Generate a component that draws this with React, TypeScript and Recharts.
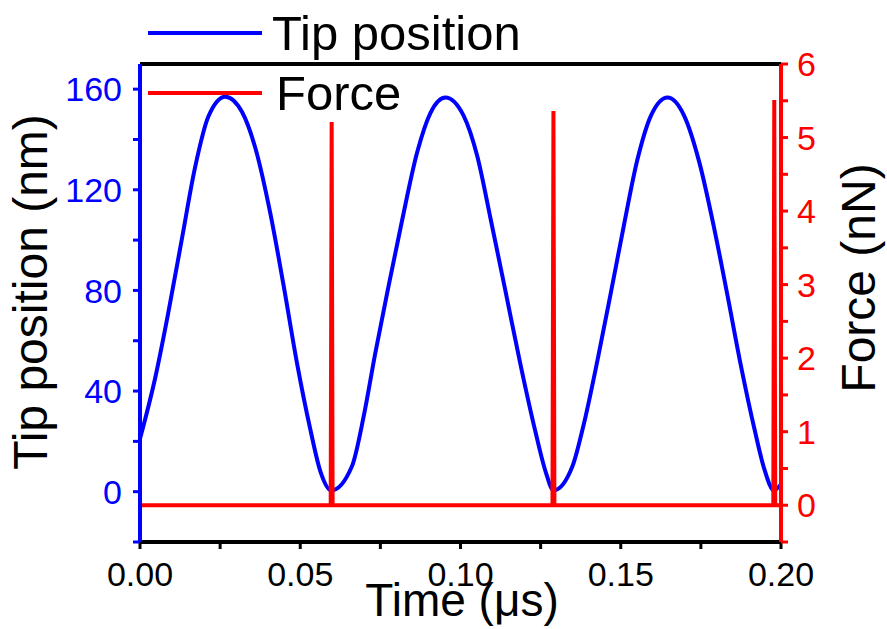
import { LineChart, Line, XAxis, YAxis } from 'recharts';

const FONT = "'Liberation Sans', Arial, sans-serif";
const BLUE = '#0000ff';
const RED = '#ff0000';

// tip position (nm) vs time (µs)
const tipTime = [
  0, 0.0047, 0.0088, 0.013, 0.0172, 0.0213, 0.0266, 0.0318, 0.0359, 0.0406, 0.0448, 0.049, 0.0531, 0.0563,
  0.0597, 0.0661, 0.0698, 0.0734, 0.0776, 0.0818, 0.0865, 0.0906, 0.0953, 0.101, 0.1052, 0.1094, 0.1141,
  0.1188, 0.1234, 0.1266, 0.129, 0.1349, 0.1385, 0.1427, 0.1469, 0.151, 0.1552, 0.1594, 0.1646, 0.1698,
  0.1745, 0.1792, 0.1833, 0.1875, 0.1917, 0.1948, 0.1978, 0.2,
];
const tipPos = [
  21, 45, 71, 100, 129, 149, 157, 151, 137, 111, 82, 51, 25, 8,
  0.5, 10, 30, 55, 82, 108, 135, 150.5, 156.7, 149.4, 133.5, 108.4, 79.3,
  50, 23.7, 7.8, 0.5, 10, 27, 52, 79, 106, 132, 149.4, 156.7, 149.4,
  131, 104.4, 78, 50, 25, 9, 0.5, 3,
];

// force (nN): flat zero with short spikes at contact
const forceTime = [0, 0.0595, 0.0598, 0.0601, 0.1287, 0.129, 0.1293, 0.1976, 0.1979, 0.1982, 0.2];
const forceVal = [0, 0, 5.21, 0, 0, 5.36, 0, 0, 5.51, 0, 0];

const timeTicks = [0, 0.025, 0.05, 0.075, 0.1, 0.125, 0.15, 0.175, 0.2];
const tipTicks = [-20, 0, 20, 40, 60, 80, 100, 120, 140, 160];
const forceTicks = [-0.5, 0, 0.5, 1, 1.5, 2, 2.5, 3, 3.5, 4, 4.5, 5, 5.5, 6];

const tipData = tipTime.map((t, i) => ({ t, v: tipPos[i] }));
const forceData = forceTime.map((t, i) => ({ t, v: forceVal[i] }));

const isMult = (v: number, step: number) => Math.abs(v / step - Math.round(v / step)) < 1e-6;

const TimeTick = (props: any) => {
  const { x, y, payload } = props;
  if (!isMult(payload.value, 0.05)) return null;
  return (
    <text x={x} y={y} dy="0.71em" textAnchor="middle" fontSize={34} fontFamily={FONT} fill="#000">
      {payload.value.toFixed(2)}
    </text>
  );
};

const TipTick = (props: any) => {
  const { x, y, payload } = props;
  if (payload.value < 0 || !isMult(payload.value, 40)) return null;
  return (
    <text x={x} y={y} dy="0.36em" textAnchor="end" fontSize={34} fontFamily={FONT} fill={BLUE}>
      {payload.value}
    </text>
  );
};

const ForceTick = (props: any) => {
  const { x, y, payload } = props;
  if (payload.value < 0 || !isMult(payload.value, 1)) return null;
  return (
    <text x={x} y={y} dy="0.36em" textAnchor="start" fontSize={34} fontFamily={FONT} fill={RED}>
      {payload.value}
    </text>
  );
};

export default function App() {
  return (
    <div style={{ position: 'absolute', left: 0, top: 0, width: 887, height: 629, background: '#fff' }}>
      <LineChart width={887} height={629} margin={{ top: 64, right: 0, bottom: 0, left: 0 }}>
        <XAxis
          xAxisId="bottom"
          dataKey="t"
          type="number"
          domain={[0, 0.2]}
          ticks={timeTicks}
          allowDataOverflow
          height={87}
          tickSize={7}
          tickMargin={13}
          tick={TimeTick}
          axisLine={{ stroke: '#000', strokeWidth: 4 }}
          tickLine={{ stroke: '#000', strokeWidth: 3 }}
        />
        <XAxis
          xAxisId="top"
          orientation="top"
          dataKey="t"
          type="number"
          domain={[0, 0.2]}
          ticks={timeTicks}
          allowDataOverflow
          height={1}
          mirror
          tickSize={5}
          tick={false}
          axisLine={{ stroke: '#000', strokeWidth: 4 }}
          tickLine={{ stroke: '#000', strokeWidth: 3 }}
        />
        <YAxis
          yAxisId="left"
          dataKey="v"
          type="number"
          domain={[-20, 170]}
          ticks={tipTicks}
          allowDataOverflow
          width={140}
          tickSize={7}
          tickMargin={11}
          tick={TipTick}
          axisLine={{ stroke: BLUE, strokeWidth: 4 }}
          tickLine={{ stroke: BLUE, strokeWidth: 3 }}
        />
        <YAxis
          yAxisId="right"
          orientation="right"
          dataKey="v"
          type="number"
          domain={[-0.5, 6]}
          ticks={forceTicks}
          allowDataOverflow
          width={106}
          tickSize={7}
          tickMargin={9}
          tick={ForceTick}
          axisLine={{ stroke: RED, strokeWidth: 4 }}
          tickLine={{ stroke: RED, strokeWidth: 3 }}
        />
        <Line
          xAxisId="bottom"
          yAxisId="left"
          data={tipData}
          dataKey="v"
          type="monotone"
          stroke={BLUE}
          strokeWidth={4}
          dot={false}
          isAnimationActive={false}
        />
        <Line
          xAxisId="top"
          yAxisId="right"
          data={forceData}
          dataKey="v"
          type="linear"
          stroke={RED}
          strokeWidth={4}
          dot={false}
          isAnimationActive={false}
        />
      </LineChart>
      <svg
        width={887}
        height={629}
        style={{ position: 'absolute', left: 0, top: 0, pointerEvents: 'none' }}
        fontFamily={FONT}
      >
        <line x1={148} x2={262} y1={33} y2={33} stroke={BLUE} strokeWidth={4} />
        <text x={272} y={50} fontSize={49} fill="#000">Tip position</text>
        <line x1={148} x2={262} y1={93} y2={93} stroke={RED} strokeWidth={4} />
        <text x={276} y={110} fontSize={49} fill="#000">Force</text>
        <text x={47} y={292} fontSize={48} fill="#000" textAnchor="middle" transform="rotate(-90, 47, 292)">
          Tip position (nm)
        </text>
        <text x={875} y={278} fontSize={48} fill="#000" textAnchor="middle" transform="rotate(-90, 875, 278)">
          Force (nN)
        </text>
        <text x={462} y={616} fontSize={46} fill="#000" textAnchor="middle">
          Time (μs)
        </text>
      </svg>
    </div>
  );
}
